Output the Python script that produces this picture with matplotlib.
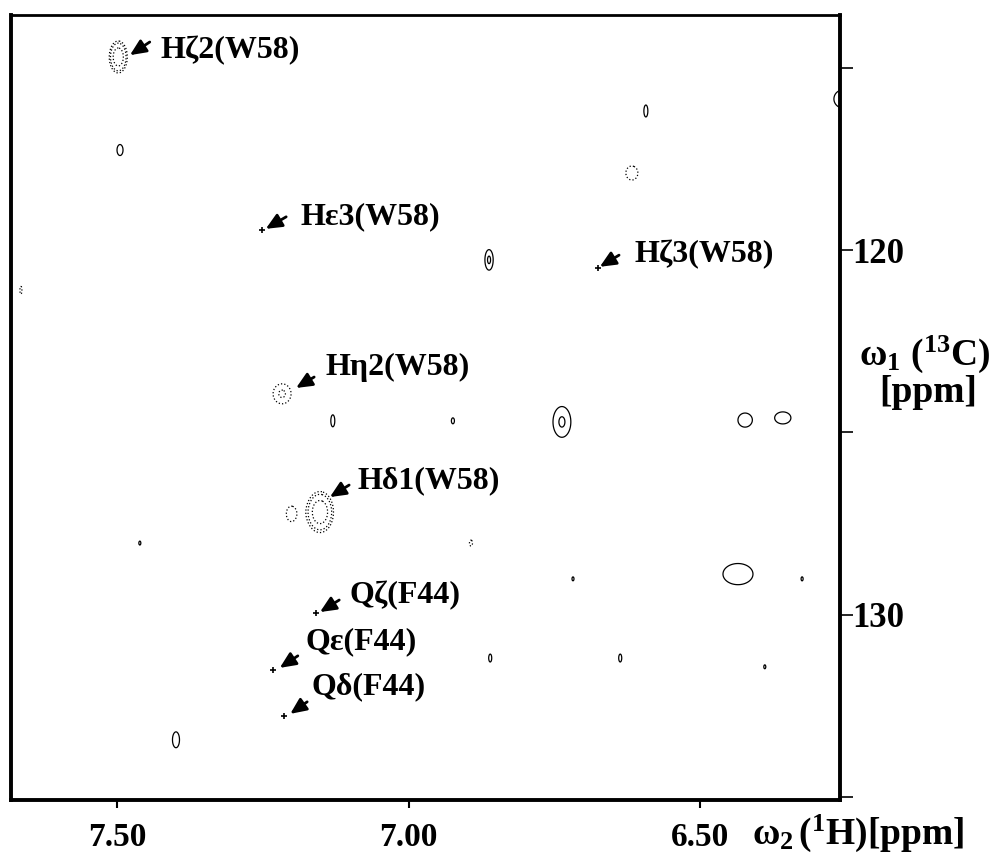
import numpy as np
import matplotlib
matplotlib.use("Agg")
import matplotlib.pyplot as plt
from matplotlib.ticker import FixedLocator, FormatStrFormatter

plt.rcParams['font.family'] = ['Liberation Serif', 'DejaVu Serif']
plt.rcParams['font.weight'] = 'bold'
plt.rcParams['mathtext.fontset'] = 'custom'
plt.rcParams['mathtext.rm'] = 'Liberation Serif:bold'
plt.rcParams['mathtext.bf'] = 'Liberation Serif:bold'
plt.rcParams['mathtext.it'] = 'Liberation Serif:bold'

# peaks: 1H shift, 13C shift, line widths (ppm), signed height
peak_h = [7.498, 7.495, 7.665, 6.255, 6.593, 6.617, 6.862, 7.217, 7.130, 6.924,
          6.737, 6.423, 6.358, 7.152, 7.201, 7.461, 6.893, 6.435, 6.718, 6.325,
          6.860, 6.637, 6.389, 7.399]
peak_c = [114.71, 117.26, 121.10, 115.86, 116.19, 117.89, 120.27, 123.94, 124.68, 124.68,
          124.71, 124.66, 124.60, 127.18, 127.23, 128.03, 128.03, 128.88, 129.01, 129.01,
          131.18, 131.18, 131.42, 133.42]
peak_wh = [0.0086, 0.0071, 0.0024, 0.0213, 0.0047, 0.0142, 0.0073, 0.0159, 0.0047, 0.0036,
           0.0160, 0.0166, 0.0190, 0.0129, 0.0120, 0.0024, 0.0036, 0.0355, 0.0024, 0.0024,
           0.0036, 0.0036, 0.0024, 0.0083]
peak_wc = [0.244, 0.208, 0.150, 0.340, 0.227, 0.265, 0.290, 0.282, 0.227, 0.113,
           0.440, 0.265, 0.227, 0.313, 0.290, 0.076, 0.113, 0.400, 0.076, 0.076,
           0.151, 0.151, 0.076, 0.300]
peak_amp = [-5.0, 1.3, -1.3, 1.3, 1.3, -1.3, 1.6, -1.6, 1.3, 1.3,
            1.58, 1.3, 1.3, -5.0, -1.3, 1.3, -1.3, 1.3, 1.3, 1.3,
            1.3, 1.3, 1.3, 1.3]

# assigned positions (crosses)
cross_h = [7.251, 6.675, 7.159, 7.233, 7.214]
cross_c = [119.45, 120.49, 129.94, 131.50, 132.77]

labels = ['H\u03b62(W58)', 'H\u03b53(W58)', 'H\u03b63(W58)', 'H\u03b72(W58)', 'H\u03b41(W58)',
          'Q\u03b6(F44)', 'Q\u03b5(F44)', 'Q\u03b4(F44)']
label_h = [7.426, 7.186, 6.612, 7.143, 7.087, 7.101, 7.176, 7.166]
label_c = [114.52, 119.09, 120.11, 123.23, 126.33, 129.48, 130.74, 131.97]
tip_h = [7.478, 7.245, 6.672, 7.193, 7.135, 7.152, 7.221, 7.203]
tip_c = [114.66, 119.42, 120.46, 123.78, 126.77, 129.92, 131.45, 132.71]
tail_h = [7.444, 7.210, 6.639, 7.162, 7.102, 7.119, 7.190, 7.174]
tail_c = [114.30, 119.09, 120.14, 123.48, 126.44, 129.59, 131.12, 132.38]

xticks = [7.50, 7.00, 6.50]
yticks = [120, 130]
yminor = [115, 125, 135]

fig = plt.figure(figsize=(9.96, 8.57), dpi=100)
ax = fig.add_axes([11/996, 1 - 800/857, 829/996, 785/857])

H, C = np.meshgrid(np.linspace(6.20, 7.72, 1600), np.linspace(113.0, 136.0, 1300))
Z = np.zeros_like(H)
for h0, c0, wh, wc, a in zip(peak_h, peak_c, peak_wh, peak_wc, peak_amp):
    Z += a * np.exp(-0.5 * ((H - h0) / wh) ** 2 - 0.5 * ((C - c0) / wc) ** 2)

ax.contour(H, C, Z, levels=[1, 1.5, 3], colors='k', linewidths=0.9, linestyles='solid')
ax.contour(H, C, Z, levels=[-3, -1.5, -1], colors='k', linewidths=0.9, linestyles=':')

ax.plot(cross_h, cross_c, '+', color='k', ms=5, mew=1.2)

for i in range(len(labels)):
    ax.annotate('', xy=(tip_h[i], tip_c[i]), xytext=(tail_h[i], tail_c[i]),
                arrowprops=dict(arrowstyle='-|>,head_length=0.6,head_width=0.27',
                                color='k', lw=2, shrinkA=0, shrinkB=0, mutation_scale=16))
    ax.text(label_h[i], label_c[i], labels[i], ha='left', va='center',
            fontsize=23, fontweight='bold')

ax.set_xlim(7.682, 6.260)
ax.set_ylim(135.07, 113.56)

ax.xaxis.set_major_locator(FixedLocator(xticks))
ax.xaxis.set_major_formatter(FormatStrFormatter('%.2f'))
ax.yaxis.set_major_locator(FixedLocator(yticks))
ax.yaxis.set_minor_locator(FixedLocator(yminor))
ax.yaxis.tick_right()
ax.tick_params(axis='x', direction='out', length=6, width=1.5, labelsize=24, pad=10)
ax.tick_params(axis='y', which='both', direction='out', length=9.5, width=1.2,
               labelsize=25, pad=-1, left=False, right=True)
for lab in ax.get_xticklabels() + ax.get_yticklabels():
    lab.set_fontweight('bold')

for side in ['left', 'right', 'bottom']:
    ax.spines[side].set_linewidth(2.8)
ax.spines['top'].set_linewidth(2.0)

fig.text(752/996, 1 - 844/857, r'$\omega_2\,(^1$H)[ppm]', fontsize=27,
         fontweight='bold', ha='left', va='baseline')
fig.text(925/996, 1 - 365/857, r'$\omega_1\ (^{13}$C)', fontsize=27,
         fontweight='bold', ha='center', va='baseline')
fig.text(928/996, 1 - 402/857, '[ppm]', fontsize=27,
         fontweight='bold', ha='center', va='baseline')

fig.savefig('out.png', dpi=100)
